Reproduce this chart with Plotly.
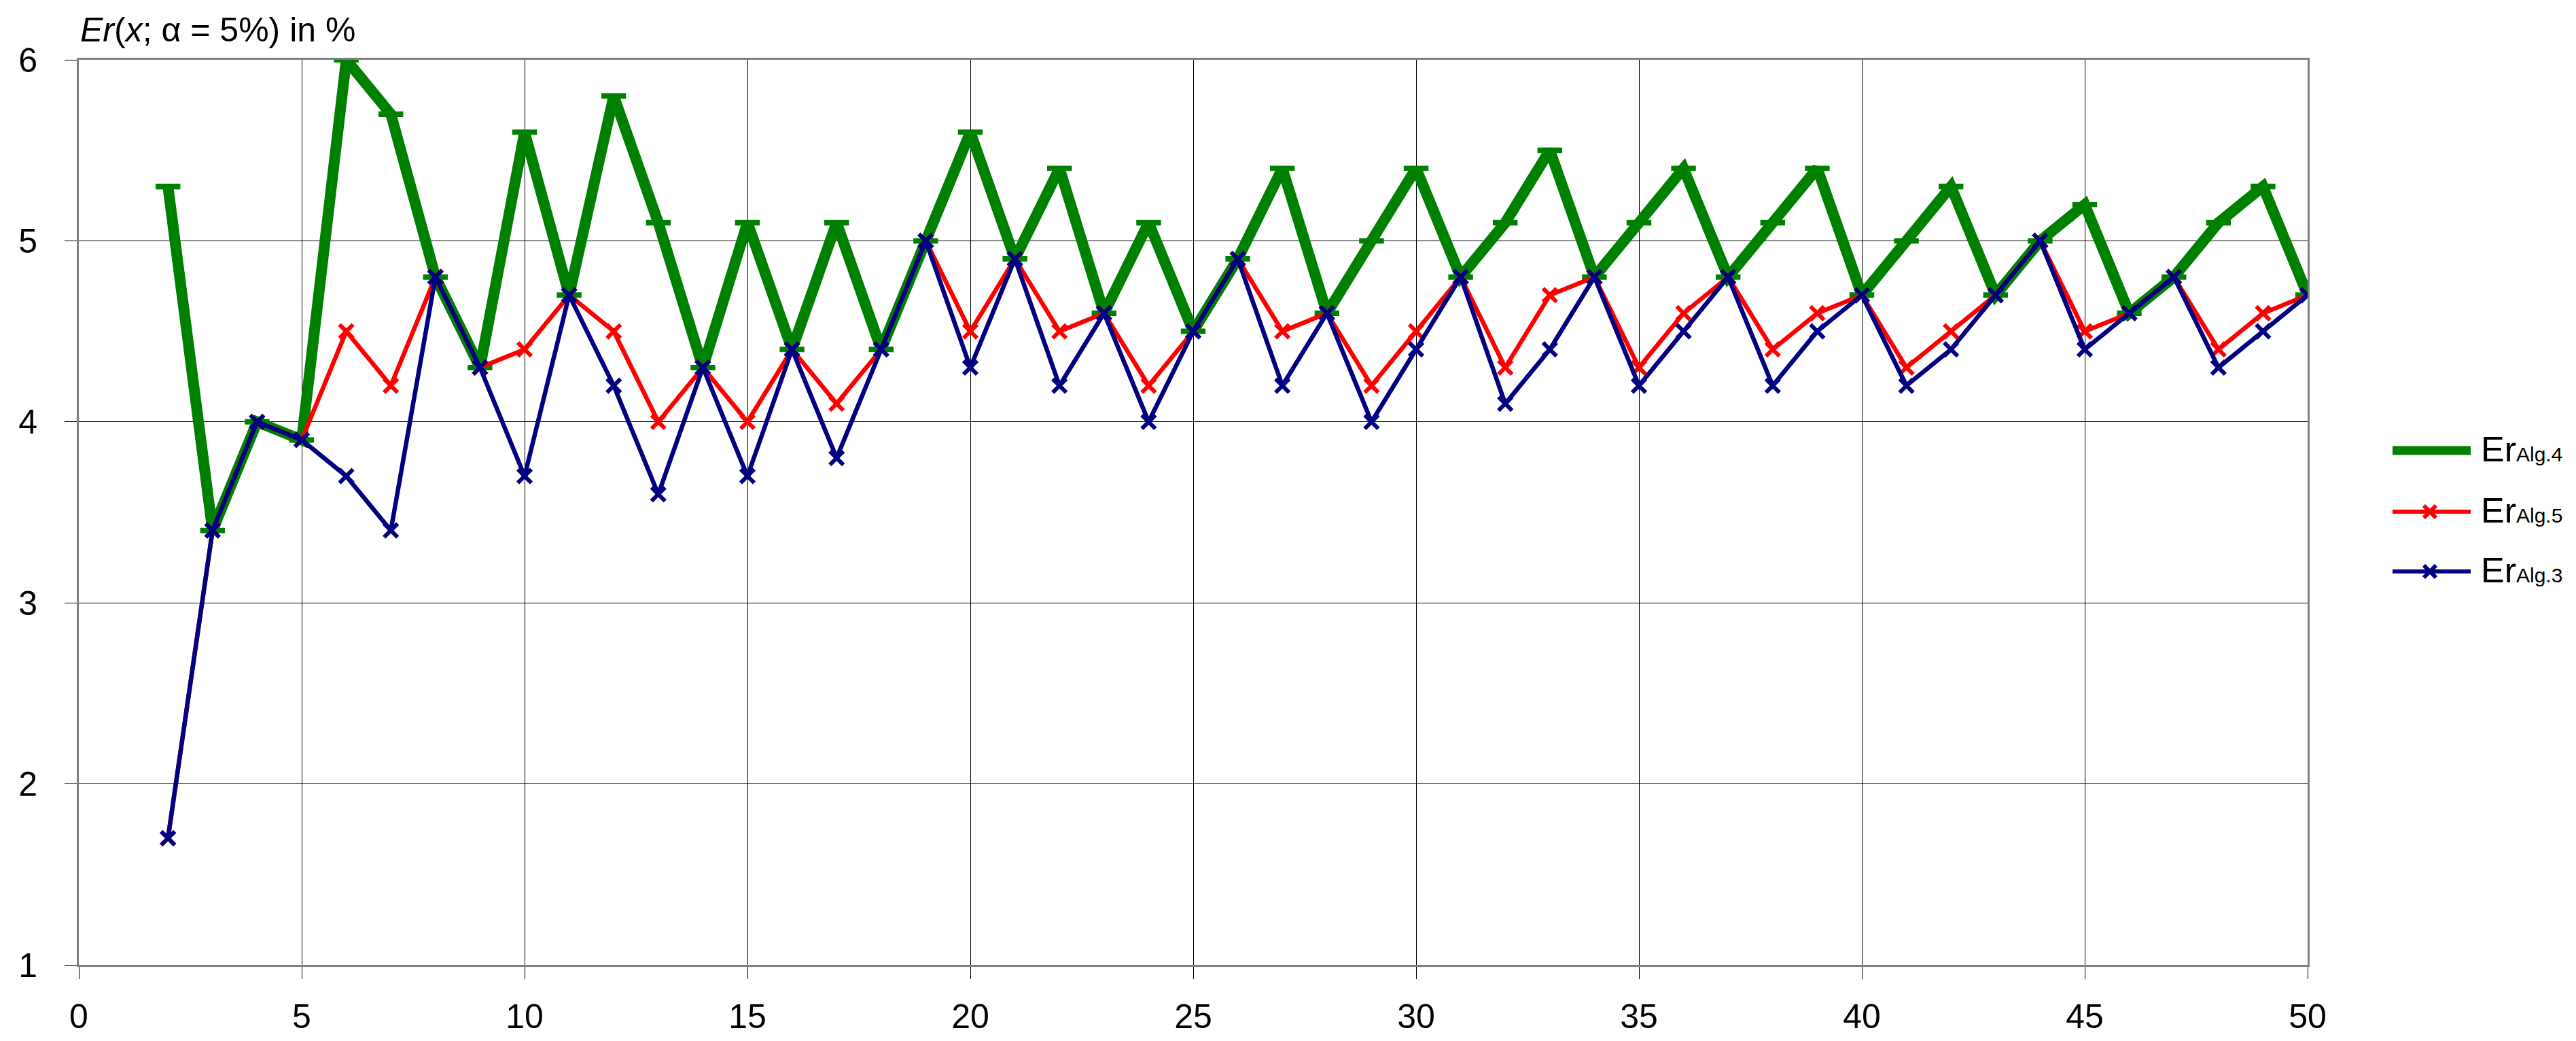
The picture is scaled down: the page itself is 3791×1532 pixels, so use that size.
import plotly.graph_objects as go

### data
x_vals = list(range(2, 51))

er_alg4 = [5.3, 3.4, 4.0, 3.9, 6.0, 5.7, 4.8, 4.3, 5.6, 4.7,
           5.8, 5.1, 4.3, 5.1, 4.4, 5.1, 4.4, 5.0, 5.6, 4.9,
           5.4, 4.6, 5.1, 4.5, 4.9, 5.4, 4.6, 5.0, 5.4, 4.8,
           5.1, 5.5, 4.8, 5.1, 5.4, 4.8, 5.1, 5.4, 4.7, 5.0,
           5.3, 4.7, 5.0, 5.2, 4.6, 4.8, 5.1, 5.3, 4.7]

er_alg5 = [1.7, 3.4, 4.0, 3.9, 4.5, 4.2, 4.8, 4.3, 4.4, 4.7,
           4.5, 4.0, 4.3, 4.0, 4.4, 4.1, 4.4, 5.0, 4.5, 4.9,
           4.5, 4.6, 4.2, 4.5, 4.9, 4.5, 4.6, 4.2, 4.5, 4.8,
           4.3, 4.7, 4.8, 4.3, 4.6, 4.8, 4.4, 4.6, 4.7, 4.3,
           4.5, 4.7, 5.0, 4.5, 4.6, 4.8, 4.4, 4.6, 4.7]

er_alg3 = [1.7, 3.4, 4.0, 3.9, 3.7, 3.4, 4.8, 4.3, 3.7, 4.7,
           4.2, 3.6, 4.3, 3.7, 4.4, 3.8, 4.4, 5.0, 4.3, 4.9,
           4.2, 4.6, 4.0, 4.5, 4.9, 4.2, 4.6, 4.0, 4.4, 4.8,
           4.1, 4.4, 4.8, 4.2, 4.5, 4.8, 4.2, 4.5, 4.7, 4.2,
           4.4, 4.7, 5.0, 4.4, 4.6, 4.8, 4.3, 4.5, 4.7]

subs = ["Alg.4", "Alg.5", "Alg.3"]
colors = ["#008000", "#FF0000", "#000080"]

FONT = "Liberation Sans, Arial, sans-serif"

W, H = 3791, 1532
ML, MR, MT, MB = 108, 403, 80, 120
PW, PH = W - ML - MR, H - MT - MB

def px(x):
    return (x - ML) / PW

def py(y):
    return (H - MB - y) / PH

fig = go.Figure()

fig.add_trace(go.Scatter(
    x=x_vals, y=er_alg4, name="Er " + subs[0], mode="lines+markers",
    line=dict(color=colors[0], width=16),
    marker=dict(symbol="line-ew", size=26, line=dict(color=colors[0], width=8))))

fig.add_trace(go.Scatter(
    x=x_vals, y=er_alg5, name="Er " + subs[1], mode="lines+markers",
    line=dict(color=colors[1], width=6.5),
    marker=dict(symbol="x-thin-open", size=20, line=dict(color=colors[1], width=6))))

fig.add_trace(go.Scatter(
    x=x_vals, y=er_alg3, name="Er " + subs[2], mode="lines+markers",
    line=dict(color=colors[2], width=6.5),
    marker=dict(symbol="x-thin-open", size=20, line=dict(color=colors[2], width=6))))

fig.update_xaxes(
    range=[0, 50], tick0=0, dtick=5,
    showgrid=True, gridcolor="black", gridwidth=1,
    showline=True, linecolor="#808080", linewidth=3, mirror=True,
    ticks="outside", ticklen=18, tickcolor="black", tickwidth=1,
    ticklabelstandoff=12,
    zeroline=False,
    tickfont=dict(family=FONT, size=50, color="black"))

fig.update_yaxes(
    range=[1, 6], tick0=1, dtick=1,
    showgrid=True, gridcolor="black", gridwidth=1,
    showline=True, linecolor="#808080", linewidth=3, mirror=True,
    ticks="outside", ticklen=18, tickcolor="black", tickwidth=1,
    ticklabelstandoff=30,
    zeroline=False,
    tickfont=dict(family=FONT, size=50, color="black"))

fig.add_annotation(
    text="<i>Er</i>(<i>x</i>; α = 5%) in %",
    xref="paper", yref="paper", x=0, y=1, xanchor="left", yanchor="bottom",
    yshift=14, showarrow=False,
    font=dict(family=FONT, size=50, color="black"))

# hand-drawn legend (Excel style: long key line, marker in the middle)
rows = [655, 745, 833]
for i in range(3):
    yy = py(rows[i])
    fig.add_shape(type="line", xref="paper", yref="paper",
                  x0=px(3513), x1=px(3628), y0=yy, y1=yy,
                  line=dict(color=colors[i], width=13 if i == 0 else 6))
    if i > 0:
        cx, s = 3568, 9
        for d in (1, -1):
            fig.add_shape(type="line", xref="paper", yref="paper",
                          x0=px(cx - s), x1=px(cx + s),
                          y0=py(rows[i] - s * d), y1=py(rows[i] + s * d),
                          line=dict(color=colors[i], width=6))
    fig.add_annotation(
        text='Er<span style="font-size:30px">' + subs[i] + '</span>',
        xref="paper", yref="paper",
        x=px(3641), y=yy, xanchor="left", yanchor="middle", yshift=2,
        showarrow=False, font=dict(family=FONT, size=52, color="black"))

fig.update_layout(
    width=W, height=H,
    margin=dict(l=ML, r=MR, t=MT, b=MB),
    paper_bgcolor="white", plot_bgcolor="white",
    font=dict(family=FONT, color="black"),
    showlegend=False,
)

fig.write_html("out.html")
